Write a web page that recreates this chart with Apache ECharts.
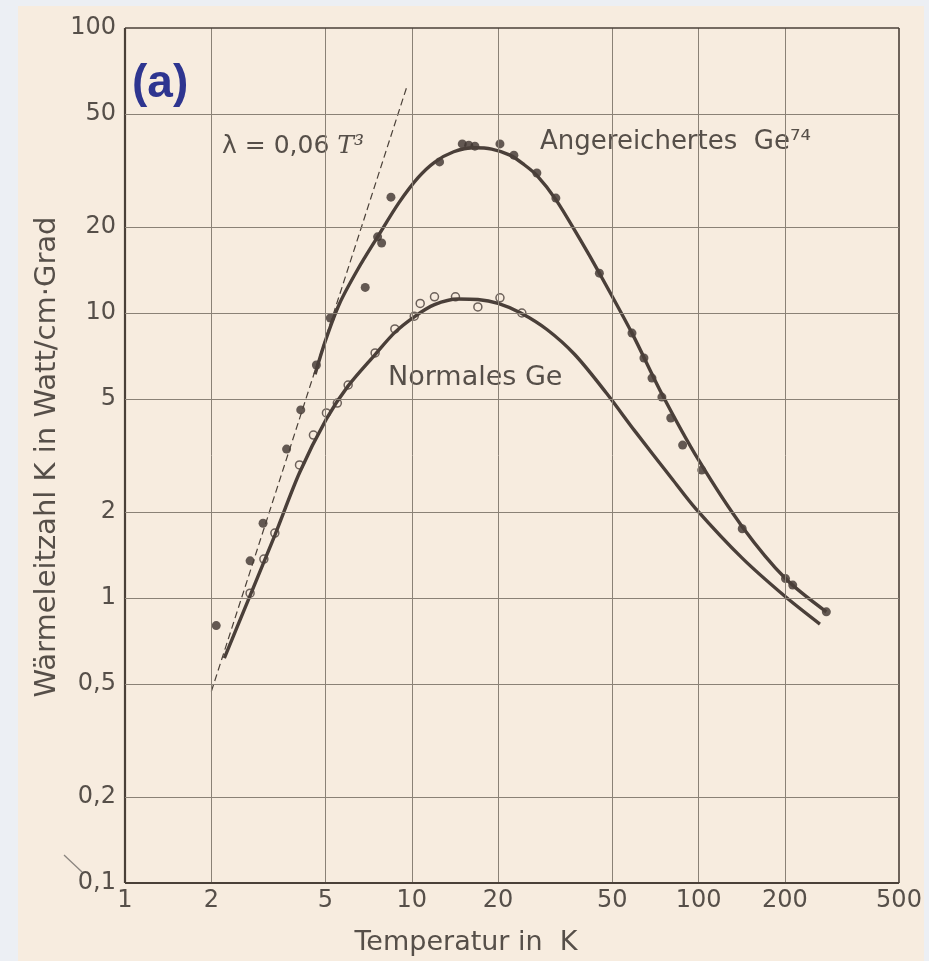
<!DOCTYPE html>
<html>
<head>
<meta charset="utf-8">
<script src="https://cdn.jsdelivr.net/npm/echarts@6/dist/echarts.min.js"></script>
<style>html,body{margin:0;padding:0;background:#eceff4;}#c{width:929px;height:961px;}</style>
</head>
<body>
<div id="c"></div>
<script>
// ---- tick values and labels ----
const xTicks = [1, 2, 5, 10, 20, 50, 100, 200, 500];
const xTickLabels = ['1', '2', '5', '10', '20', '50', '100', '200', '500'];
const yTicks = [0.1, 0.2, 0.5, 1, 2, 5, 10, 20, 50, 100];
const yTickLabels = ['0,1', '0,2', '0,5', '1', '2', '5', '10', '20', '50', '100'];

// ---- measured points: enriched Ge74 (filled dots) [T, K] ----
const enrichedPoints = [
  [2.08, 0.80], [2.73, 1.35], [3.03, 1.83], [3.66, 3.33], [4.10, 4.57], [4.65, 6.57],
  [5.2, 9.6], [6.88, 12.3], [7.6, 18.5], [7.85, 17.6], [8.46, 25.5], [12.5, 33.9],
  [15.0, 39.2], [15.8, 38.8], [16.6, 38.5], [20.3, 39.2], [22.7, 35.8], [27.3, 31.0],
  [31.8, 25.3], [45.1, 13.8], [58.6, 8.5], [64.5, 6.95], [68.8, 5.91], [74.5, 5.07],
  [80, 4.28], [88, 3.44], [102.6, 2.81], [142, 1.75], [201, 1.17], [213, 1.11], [279, 0.894]
];
// ---- measured points: normal Ge (open circles) [T, K] ----
const normalPoints = [
  [2.73, 1.04], [3.05, 1.37], [3.33, 1.69], [4.06, 2.93], [4.54, 3.73], [5.04, 4.46],
  [5.50, 4.83], [6.0, 5.59], [7.45, 7.24], [8.73, 8.79], [10.2, 9.75], [10.7, 10.8],
  [12.0, 11.4], [14.2, 11.4], [17.0, 10.5], [20.3, 11.3], [24.2, 10.0]
];
// ---- drawn curves [T, K] ----
const enrichedCurve = [
  [4.6, 6.1], [5.0, 8.0], [5.6, 10.8], [6.5, 14.3], [7.6, 18.5], [9.0, 24.3], [10.5, 29.8],
  [12, 33.8], [14, 36.8], [16.5, 38.0], [19, 37.6], [22, 35.8], [24.6, 33.2], [27.3, 30.4],
  [31.8, 25.0], [38.4, 18.3], [45.1, 13.8], [58.6, 8.5], [74.5, 5.2], [100, 3.05],
  [142, 1.78], [201, 1.17], [279, 0.894]
];
const normalCurve = [
  [2.22, 0.615], [2.73, 1.02], [3.33, 1.66], [4.06, 2.75], [5.04, 4.25], [6.0, 5.55],
  [7.45, 7.15], [8.73, 8.55], [10.2, 9.7], [12, 10.7], [14.5, 11.2], [17, 11.15],
  [20, 10.8], [24, 10.0], [29.6, 8.75], [37, 7.15], [47.7, 5.24], [60, 3.85],
  [81.3, 2.6], [97.7, 2.06], [142, 1.38], [201, 1.01], [265, 0.81]
];
// ---- lambda = 0.06 T^3 guide line (end points) ----
const t3Line = [[2.0, 0.47], [9.6, 62]];

const ink = '#4a3f39';
const gridCol = '#8a8176';
const txt = '#564f49';
const paper = '#f7ecdf';
const font = 'DejaVu Sans';

const markData = [];
xTicks.forEach((v, i) => {
  const item = { xAxis: v, label: { formatter: xTickLabels[i], distance: 6 } };
  if (i === 0) item.lineStyle = { color: '#4a4038', width: 2.2 };
  if (i === xTicks.length - 1) item.lineStyle = { color: '#4a4038', width: 1.6 };
  markData.push(item);
});
yTicks.forEach((v, i) => {
  const item = { yAxis: v, label: { formatter: yTickLabels[i], distance: 9 } };
  if (i === 0) item.lineStyle = { color: '#4a4038', width: 2.2 };
  if (i === yTicks.length - 1) item.lineStyle = { color: '#4a4038', width: 1.6 };
  markData.push(item);
});

const chart = echarts.init(document.getElementById('c'));
chart.setOption({
  backgroundColor: '#eceff4',
  animation: false,
  grid: { left: 125, right: 30, top: 28, bottom: 78 },
  xAxis: {
    type: 'log', logBase: 10, min: 1, max: 500,
    axisLine: { show: false }, axisTick: { show: false }, axisLabel: { show: false }, splitLine: { show: false }
  },
  yAxis: {
    type: 'log', logBase: 10, min: 0.1, max: 100,
    axisLine: { show: false }, axisTick: { show: false }, axisLabel: { show: false }, splitLine: { show: false }
  },
  graphic: [
    { type: 'rect', z: -10, shape: { x: 18, y: 6, width: 906, height: 960 }, style: { fill: paper } },
    { type: 'line', z: 5, shape: { x1: 64, y1: 855, x2: 82, y2: 872 }, style: { stroke: '#8a847e', lineWidth: 1.3 } },
    { type: 'text', z: 5, x: 132, y: 84, style: { text: '(a)', fill: '#2e3590', font: 'bold 46px "Liberation Sans"', verticalAlign: 'middle' } },
    { type: 'text', z: 5, x: 222, y: 146, style: {
        text: '{a|λ = 0,06 }{t|T³}', verticalAlign: 'middle',
        rich: { a: { fontSize: 25, fontFamily: font, fill: txt }, t: { fontSize: 25, fontFamily: 'DejaVu Serif', fontStyle: 'italic', fill: txt } } } },
    { type: 'text', z: 5, x: 540, y: 142, style: { text: 'Angereichertes  Ge⁷⁴', fill: txt, fontSize: 26, fontFamily: font, verticalAlign: 'middle' } },
    { type: 'text', z: 5, x: 388, y: 378, style: { text: 'Normales Ge', fill: txt, fontSize: 27, fontFamily: font, verticalAlign: 'middle' } },
    { type: 'text', z: 5, x: 466, y: 943, style: { text: 'Temperatur in  K', fill: txt, fontSize: 27, fontFamily: font, align: 'center', verticalAlign: 'middle' } },
    { type: 'text', z: 5, x: 47, y: 457, rotation: Math.PI / 2, style: { text: 'Wärmeleitzahl K in Watt/cm·Grad', fill: txt, fontSize: 29, fontFamily: font, align: 'center', verticalAlign: 'middle' } }
  ],
  series: [
    {
      name: 'λ = 0,06 T³', type: 'line', data: t3Line, showSymbol: false, clip: false,
      lineStyle: { color: '#4a4038', width: 1.2, type: [7, 4] },
      markLine: {
        silent: true, symbol: ['none', 'none'], animation: false,
        lineStyle: { color: gridCol, width: 1, type: 'solid' },
        label: { show: true, position: 'start', color: txt, fontSize: 24, fontFamily: font },
        data: markData
      }
    },
    {
      name: 'Normales Ge', type: 'line', data: normalCurve, smooth: 0.3, showSymbol: false,
      lineStyle: { color: ink, width: 3.4 }
    },
    {
      name: 'Angereichertes Ge74', type: 'line', data: enrichedCurve, smooth: 0.3, showSymbol: false,
      lineStyle: { color: ink, width: 3.4 }
    },
    {
      name: 'Normales Ge (Messung)', type: 'scatter', data: normalPoints, symbol: 'circle', symbolSize: 8,
      itemStyle: { color: paper, borderColor: ink, borderWidth: 1.5 }
    },
    {
      name: 'Angereichertes Ge74 (Messung)', type: 'scatter', data: enrichedPoints, symbol: 'circle', symbolSize: 9,
      itemStyle: { color: '#3d332e' }
    }
  ]
});
</script>
</body>
</html>
